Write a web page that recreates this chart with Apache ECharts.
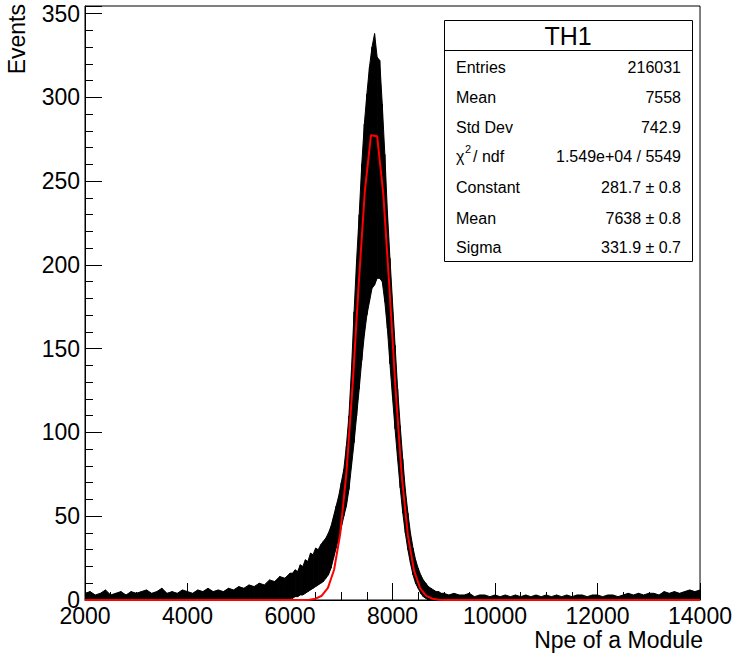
<!DOCTYPE html>
<html><head><meta charset="utf-8">
<script src="https://cdn.jsdelivr.net/npm/echarts@6/dist/echarts.min.js"></script>
<style>html,body{margin:0;padding:0;background:#fff}#c{width:735px;height:655px}</style>
</head><body><div id="c"></div>
<script>
// Histogram band (x, upper envelope, lower envelope)
const histX = [
 2000,2100,2200,2300,2400,2500,2600,2700,2800,2900,3000,3100,3200,3300,3400,3500,3600,3700,3800,3900,
 4000,4100,4200,4300,4400,4500,4600,4700,4800,4900,5000,5100,5200,5300,5400,5500,5600,5700,5800,5900,6000,
 6050,6100,6150,6200,6250,6300,6350,6400,6450,6500,6550,6600,6650,6700,6750,6800,6850,6900,6950,7000,
 7050,7100,7150,7200,7250,7300,7350,7400,7450,7500,7550,7600,7650,7700,7750,7800,7850,7900,7950,8000,
 8050,8100,8150,8200,8250,8300,8350,8400,8450,8500,8550,8600,8650,8700,8750,8800,8850,8900,8950,9000,
 9100,9200,9300,9400,9500,9600,9700,9800,9900,10000,10100,10200,10300,10400,10500,10600,10700,10800,10900,11000,
 11100,11200,11300,11400,11500,11600,11700,11800,11900,12000,12100,12200,12300,12400,12500,12600,12700,12800,12900,13000,
 13100,13200,13300,13400,13500,13600,13700,13800,13900,14000
];
const histHi = [
 4,5,3,4,6,3,4,5,3,5,4,5,6,4,5,7,4,5,4,6,
 5,4,6,5,7,5,6,5,7,6,8,7,9,8,10,9,12,11,14,13,16,
 16,18,17,21,20,24,23,28,27,31,30,33,35,37,40,44,50,56,62,70,
 78,92,110,138,172,203,230,260,284,302,318,330,338,324,322,296,266,232,204,178,
 152,126,104,84,66,52,40,31,24,19,15,12,10,8,7,6,5,5,4,4,
 3,4,3,3,4,2,3,3,2,3,2,3,2,3,2,3,2,3,2,3,
 2,3,2,3,2,3,3,2,3,3,2,3,3,2,3,4,3,4,3,4,
 4,3,5,4,5,4,5,6,5,6
];
const histLo = [
 0,0,0,0,0,0,0,0,0,0,0,0,0,0,0,0,0,0,0,0,
 0,0,0,0,0,0,0,0,0,0,0,0,0,0,0,0,0,0,0,0,1,
 1,2,2,3,3,4,5,6,7,8,9,10,11,13,15,19,25,31,37,43,
 50,56,66,80,94,110,126,143,158,170,178,186,188,192,192,190,178,162,141,121,
 102,84,67,52,40,30,22,15,10,7,4,2,1,0,0,0,0,0,0,0,
 0,0,0,0,0,0,0,0,0,0,0,0,0,0,0,0,0,0,0,0,
 0,0,0,0,0,0,0,0,0,0,0,0,0,0,0,0,0,0,0,0,
 0,0,0,0,0,0,0,0,0,0
];
// Gaussian fit curve, sampled points
const fitX = [2000,6020,6140,6260,6380,6500,6620,6740,6860,6980,7100,7220,7340,7460,7580,7700,7820,7940,8060,8180,8300,8420,8540,8660,8780,8900,9020,9140,9260,14000];
const fitY = [0,0,0.01,0.05,0.21,0.79,2.55,7.25,18.05,39.48,75.72,127.46,188.24,243.97,277.43,276.83,242.38,186.21,125.53,74.26,38.53,17.56,7.01,2.46,0.76,0.20,0.05,0.01,0,0];

const statTitle = 'TH1';
const statLabels = ['Entries','Mean','Std Dev','χ2 / ndf','Constant','Mean','Sigma'];
const statValues = ['216031','7558','742.9','1.549e+04 / 5549','281.7 ± 0.8','7638 ± 0.8','331.9 ± 0.7'];
const xTitle = 'Npe of a Module';
const yTitle = 'Events';

const FONT = 'Liberation Sans, Arial, Helvetica, sans-serif';
const chart = echarts.init(document.getElementById('c'), null, {renderer:'svg'});

const bandData = histX.map((x,i)=>[x, histLo[i], histHi[i]]);

const statGraphics = [];
const rowY = [67, 97, 127, 156, 187, 218, 247];
statGraphics.push({type:'rect', shape:{x:444.5,y:20.5,width:248,height:241}, style:{fill:'#fff', stroke:'#000', lineWidth:1}, z:100});
statGraphics.push({type:'line', shape:{x1:444.5,y1:50.5,x2:692.5,y2:50.5}, style:{stroke:'#000', lineWidth:1}, z:101});
statGraphics.push({type:'text', x:568, y:36, style:{text:statTitle, font:'25px '+FONT, fill:'#000', align:'center', verticalAlign:'middle'}, z:101});
statLabels.forEach((lab,i)=>{
  if (lab.indexOf('χ2') === 0) {
    statGraphics.push({type:'text', x:456, y:rowY[i], style:{text:'χ', font:'16px '+FONT, fill:'#000', align:'left', verticalAlign:'middle'}, z:101});
    statGraphics.push({type:'text', x:465, y:rowY[i]-7, style:{text:'2', font:'11px '+FONT, fill:'#000', align:'left', verticalAlign:'middle'}, z:101});
    statGraphics.push({type:'text', x:473, y:rowY[i], style:{text:lab.slice(3), font:'16px '+FONT, fill:'#000', align:'left', verticalAlign:'middle'}, z:101});
  } else {
    statGraphics.push({type:'text', x:456, y:rowY[i], style:{text:lab, font:'16px '+FONT, fill:'#000', align:'left', verticalAlign:'middle'}, z:101});
  }
  statGraphics.push({type:'text', x:681, y:rowY[i], style:{text:statValues[i], font:'16px '+FONT, fill:'#000', align:'right', verticalAlign:'middle'}, z:101});
});

const option = {
  animation:false,
  backgroundColor:'#fff',
  grid:{left:85, top:6, width:618, height:594, show:true, borderColor:'#000', borderWidth:1, backgroundColor:'transparent', containLabel:false},
  xAxis:{type:'value', min:2000, max:14000, interval:2000,
    axisLine:{show:true, onZero:false, lineStyle:{color:'#000', width:1}},
    axisTick:{show:true, inside:true, length:17, lineStyle:{color:'#000', width:1}},
    minorTick:{show:true, splitNumber:4, length:8, lineStyle:{color:'#000', width:1}},
    splitLine:{show:false}, minorSplitLine:{show:false},
    axisLabel:{color:'#000', fontSize:23, fontFamily:FONT, margin:4, showMinLabel:true, showMaxLabel:true,
      formatter:(v)=>String(v)}
  },
  yAxis:{type:'value', min:0, max:354.5, interval:50,
    axisLine:{show:true, onZero:false, lineStyle:{color:'#000', width:1}},
    axisTick:{show:true, inside:true, length:17, lineStyle:{color:'#000', width:1}},
    minorTick:{show:true, splitNumber:5, length:8, lineStyle:{color:'#000', width:1}},
    splitLine:{show:false}, minorSplitLine:{show:false},
    axisLabel:{color:'#000', fontSize:23, fontFamily:FONT, margin:5, padding:[0,0,5,0], showMaxLabel:false,
      formatter:(v)=> (Math.abs(v % 50) < 1e-6 ? String(v) : '')}
  },
  series:[
    {type:'custom', name:'hist', coordinateSystem:'cartesian2d', clip:true, z:2,
     encode:{x:0, y:[1,2]},
     data:bandData,
     renderItem:(params, api)=>{
       const i = params.dataIndex;
       if (i >= histX.length-1) return null;
       const a = api.coord([histX[i], histHi[i]]);
       const b = api.coord([histX[i+1], histHi[i+1]]);
       const c = api.coord([histX[i+1], histLo[i+1]]);
       const d = api.coord([histX[i], histLo[i]]);
       return {type:'polygon', shape:{points:[a,b,c,d]}, style:{fill:'#000', stroke:'#000', lineWidth:1}};
     }
    },
    {type:'line', name:'fit', data:fitX.map((x,i)=>[x, fitY[i]]), showSymbol:false, symbol:'none',
     lineStyle:{color:'#ff0000', width:2}, z:5, clip:true}
  ],
  graphic:[
    {type:'text', x:703, y:640, style:{text:xTitle, font:'23px '+FONT, fill:'#000', align:'right', verticalAlign:'middle'}},
    {type:'text', x:17, y:4, rotation:Math.PI/2, style:{text:yTitle, font:'23px '+FONT, fill:'#000', align:'right', verticalAlign:'middle'}}
  ].concat(statGraphics)
};
chart.setOption(option);
</script>
</body></html>
